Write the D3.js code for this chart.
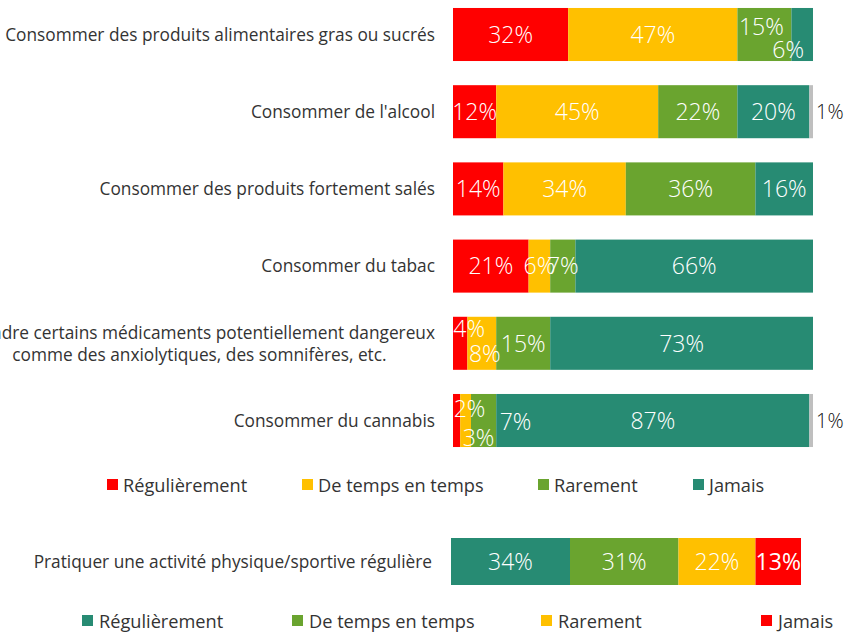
<!DOCTYPE html>
<meta charset="utf-8">
<style>
body { margin: 0; background: #fff; }
svg text { font-family: "Open Sans", sans-serif; }
.cat { font-size: 17.3px; fill: #333; }
.val { font-size: 23px; font-weight: 300; fill: #fff; }
.outside { font-size: 20px; font-weight: 300; fill: #111; }
.legend text { font-size: 18.2px; fill: #333; }
</style>
<svg width="846" height="634"></svg>
<script src="https://cdn.jsdelivr.net/npm/d3@7"></script>
<script>

// comportements
var categories = [
  "Consommer des produits alimentaires gras ou sucrés",
  "Consommer de l'alcool",
  "Consommer des produits fortement salés",
  "Consommer du tabac",
  "Prendre certains médicaments potentiellement dangereux|comme des anxiolytiques, des somnifères, etc.",
  "Consommer du cannabis"
];
var regulierement  = [32, 12, 14, 21, 4, 2];
var deTempsEnTemps = [47, 45, 34, 6, 8, 3];
var rarement       = [15, 22, 36, 7, 15, 7];
var jamais         = [6, 20, 16, 66, 73, 87];
var nsp            = [0, 1, 0, 0, 0, 1];
var seriesNames = ["Régulièrement", "De temps en temps", "Rarement", "Jamais"];

// activité physique
var sportCategory = "Pratiquer une activité physique/sportive régulière";
var sportNames  = ["Régulièrement", "De temps en temps", "Rarement", "Jamais"];
var sportValues = [34, 31, 22, 13];

var colors = {red: "#ff0000", yellow: "#ffc000", green: "#6aa42f", teal: "#278b73", grey: "#bfbfbf"};
var topColors = [colors.red, colors.yellow, colors.green, colors.teal, colors.grey];
var sportColors = [colors.teal, colors.green, colors.yellow, colors.red];

// labels deplaces a la main (comme dans le graphique d'origine) : "ligne-serie" -> [dx, dy]
var labelNudge = {
  "0-2": [-3, -8], "0-3": [-14, 15],
  "4-0": [9, -15], "4-1": [3, 10],
  "5-0": [13, -12], "5-1": [13, 17], "5-2": [32, 1]
};

var svg = d3.select("svg");

var x = d3.scaleLinear().domain([0, 100]).range([453, 813]);
var y = d3.scaleBand().domain(d3.range(categories.length))
    .range([-4.1, 459.1]).paddingInner(0.313).paddingOuter(0.1565);

var rows = categories.map(function(c, i) {
  return {cat: c, values: [regulierement[i], deTempsEnTemps[i], rarement[i], jamais[i], nsp[i]]};
});

var gRows = svg.selectAll("g.row").data(rows).enter().append("g").attr("class", "row");

gRows.each(function(d, i) {
  var g = d3.select(this);
  var acc = 0;
  var segs = d.values.map(function(v, k) {
    var s = {k: k, v: v, x0: acc, x1: acc + v};
    acc += v;
    return s;
  });
  g.selectAll("rect").data(segs.filter(function(s) { return s.v > 0; })).enter().append("rect")
    .attr("x", function(s) { return x(s.x0); })
    .attr("width", function(s) { return x(s.x1) - x(s.x0); })
    .attr("y", y(i))
    .attr("height", y.bandwidth())
    .attr("fill", function(s) { return topColors[s.k]; });

  var cy = y(i) + y.bandwidth() / 2;
  g.selectAll("text.val").data(segs.filter(function(s) { return s.v > 0 && s.k < 4; })).enter().append("text")
    .attr("class", "val")
    .attr("text-anchor", "middle")
    .attr("dy", "0.36em")
    .attr("x", function(s) { var n = labelNudge[i + "-" + s.k]; return (x(s.x0) + x(s.x1)) / 2 + (n ? n[0] : 0); })
    .attr("y", function(s) { var n = labelNudge[i + "-" + s.k]; return cy + (n ? n[1] : 0); })
    .text(function(s) { return s.v + "%"; });

  // non reponse, etiquette a l'exterieur
  segs.filter(function(s) { return s.k == 4 && s.v > 0; }).forEach(function(s) {
    g.append("text").attr("class", "outside")
      .attr("x", x(100) + 3).attr("y", cy).attr("dy", "0.36em")
      .text(s.v + "%");
  });

  // libelle de categorie
  var lines = d.cat.split("|");
  if (lines.length == 1) {
    g.append("text").attr("class", "cat").attr("text-anchor", "end")
      .attr("x", 435).attr("y", cy).attr("dy", "0.36em").text(lines[0]);
  } else {
    var t1 = g.append("text").attr("class", "cat").attr("text-anchor", "end")
      .attr("x", 435).attr("y", cy - 11).attr("dy", "0.36em").text(lines[0]);
    var w1 = t1.node().getComputedTextLength();
    g.append("text").attr("class", "cat").attr("text-anchor", "middle")
      .attr("x", 435 - w1 / 2).attr("y", cy + 11).attr("dy", "0.36em").text(lines[1]);
  }
});

// legende 1
var leg1x = [107, 302, 538, 693];
var leg1 = svg.append("g").attr("class", "legend");
seriesNames.forEach(function(n, k) {
  leg1.append("rect").attr("x", leg1x[k]).attr("y", 479).attr("width", 11).attr("height", 11).attr("fill", topColors[k]);
  leg1.append("text").attr("x", leg1x[k] + 16).attr("y", 485).attr("dy", "0.36em").text(n);
});

// barre activite physique
var x2 = d3.scaleLinear().domain([0, 100]).range([451, 801]);
var sy = 538, sh = 47;
var acc2 = 0;
var sportSegs = sportValues.map(function(v, k) {
  var s = {k: k, v: v, x0: acc2, x1: acc2 + v};
  acc2 += v;
  return s;
});
var gs = svg.append("g");
gs.selectAll("rect").data(sportSegs).enter().append("rect")
  .attr("x", function(s) { return x2(s.x0); })
  .attr("width", function(s) { return x2(s.x1) - x2(s.x0); })
  .attr("y", sy).attr("height", sh)
  .attr("fill", function(s) { return sportColors[s.k]; });
gs.selectAll("text.val").data(sportSegs).enter().append("text")
  .attr("class", "val").attr("text-anchor", "middle").attr("dy", "0.36em")
  .attr("x", function(s) { return (x2(s.x0) + x2(s.x1)) / 2; })
  .attr("y", sy + sh / 2)
  .style("font-weight", function(s) { return s.k == 3 ? 400 : 300; })
  .text(function(s) { return s.v + "%"; });
gs.append("text").attr("class", "cat").attr("text-anchor", "end")
  .attr("x", 432).attr("y", sy + sh / 2).attr("dy", "0.36em").text(sportCategory);

// legende 2
var leg2x = [82, 292, 541, 761];
var leg2 = svg.append("g").attr("class", "legend");
sportNames.forEach(function(n, k) {
  leg2.append("rect").attr("x", leg2x[k]).attr("y", 615).attr("width", 11).attr("height", 11).attr("fill", sportColors[k]);
  leg2.append("text").attr("x", leg2x[k] + 17).attr("y", 621).attr("dy", "0.36em").text(n);
});

</script>
